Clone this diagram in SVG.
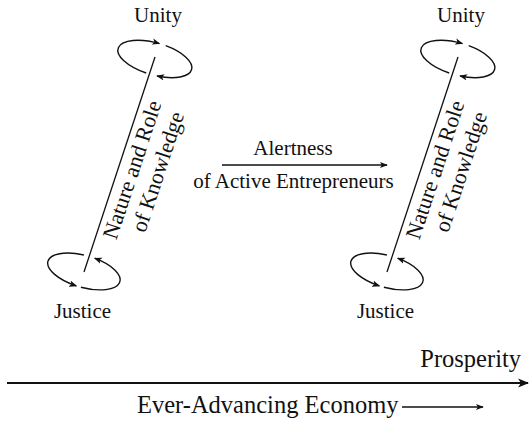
<svg xmlns="http://www.w3.org/2000/svg" width="529" height="424" viewBox="0 0 529 424">
<style>
.t{font-family:"Liberation Serif","DejaVu Serif",serif;font-size:21px;fill:#111;text-anchor:middle}
.big{font-size:24.5px}
.rot{font-size:22px}
.c{fill:none;stroke:#111;stroke-width:1.4}
.ln{stroke:#111;stroke-width:1.3}
</style>
<defs>
<marker id="ah" viewBox="0 0 10 10" refX="9" refY="5" markerWidth="8" markerHeight="8" markerUnits="userSpaceOnUse" orient="auto"><path d="M0,1 L10,5 L0,9 L2.5,5 Z" fill="#111"/></marker>
<marker id="ahL" viewBox="0 0 10 10" refX="9" refY="5" markerWidth="11" markerHeight="11" markerUnits="userSpaceOnUse" orient="auto"><path d="M0,1 L10,5 L0,9 L2.5,5 Z" fill="#111"/></marker>
<g id="cycle">
<line class="ln" x1="155" y1="57" x2="84" y2="272"/>
<path class="c" d="M146.2,73 A38,16 16 0 1 159.4,43.6" marker-end="url(#ah)"/>
<path class="c" d="M165.7,45.7 A38,16 16 0 1 157,76" marker-end="url(#ah)"/>
<path class="c" d="M80.9,287.2 A38,16 16 0 0 94.7,258.2" marker-end="url(#ah)"/>
<path class="c" d="M83.9,255 A38,16 16 0 0 76.4,285.9" marker-end="url(#ah)"/>
</g>
</defs>
<g id="left">
<use href="#cycle"/>
<text class="t" x="158" y="22">Unity</text>
<text class="t" x="82.5" y="318">Justice</text>
<g transform="translate(139,172) rotate(-71.7)">
<text class="t rot" x="0" y="0">Nature and Role</text>
<text class="t rot" x="6" y="25">of Knowledge</text>
</g>
</g>
<g id="right">
<use href="#cycle" transform="translate(303,0)"/>
<text class="t" x="461" y="22">Unity</text>
<text class="t" x="385.5" y="318">Justice</text>
<g transform="translate(442,172) rotate(-71.7)">
<text class="t rot" x="0" y="0">Nature and Role</text>
<text class="t rot" x="6" y="25">of Knowledge</text>
</g>
</g>
<g id="connectors">
<line x1="222" y1="165" x2="387" y2="165" stroke="#111" stroke-width="1.5" marker-end="url(#ah)"/>
<line x1="7" y1="383" x2="528" y2="383" stroke="#111" stroke-width="2" marker-end="url(#ahL)"/>
<line x1="402" y1="407" x2="483" y2="407" stroke="#111" stroke-width="1.3" marker-end="url(#ah)"/>
</g>
<g id="labels">
<text class="t" x="293" y="155">Alertness</text>
<text class="t" x="293.5" y="188">of Active Entrepreneurs</text>
<text class="t big" x="521" y="367" style="text-anchor:end">Prosperity</text>
<text class="t big" x="137" y="413" style="text-anchor:start">Ever-Advancing Economy</text>
</g>
</svg>
